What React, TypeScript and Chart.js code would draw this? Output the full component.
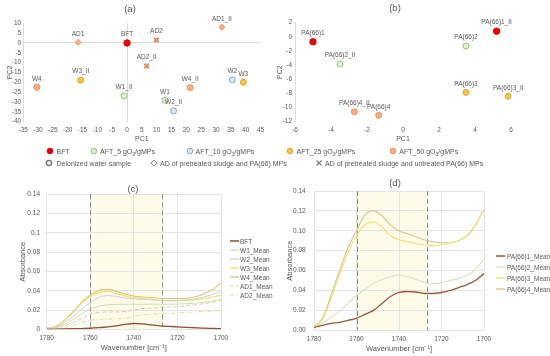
import React, { useEffect, useRef } from 'react';
import { Chart, registerables } from 'chart.js';
Chart.register(...registerables);

const FONT = "'Liberation Sans', Arial, sans-serif";
const TXT = '#595959';
const GRID = '#e4e4e4';
Chart.defaults.font.family = FONT;
Chart.defaults.color = TXT;

// ---------- Panel (a): PCA of sludge samples ----------
const aNames = ['BFT', 'AD1', 'AD2', 'AD1_II', 'AD2_II', 'W4', 'W3_II', 'W1_II', 'W1', 'W2_II', 'W4_II', 'W2', 'W3'];
const aPC1 = [0, -16.5, 9.9, 32, 6.6, -30.4, -15.6, -1, 12.8, 15.7, 21.3, 35.5, 39.2];
const aPC2 = [0, 0.3, 1.5, 8, -11.7, -22.5, -18.9, -26.9, -29.1, -34.5, -22.7, -18.8, -20];
const aGroups = ['BFT', 'AD', 'ADU', 'AD', 'ADU', 'AFT50', 'AFT25', 'AFT5', 'AFT5', 'AFT10', 'AFT50', 'AFT10', 'AFT25'];

// ---------- Panel (b): PCA of PA(66) ----------
const bNames = ['PA(66)1', 'PA(66)1_II', 'PA(66)2', 'PA(66)2_II', 'PA(66)3', 'PA(66)3_II', 'PA(66)4', 'PA(66)4_II'];
const bPC1 = [-5.0, 5.2, 3.5, -3.5, 3.5, 5.85, -1.35, -2.7];
const bPC2 = [-0.7, 0.8, -1.3, -3.85, -7.85, -8.4, -11.1, -10.6];
const bGroups = ['BFT', 'BFT', 'AFT5', 'AFT5', 'AFT25', 'AFT25', 'AFT50', 'AFT50'];

// ---------- Spectra ----------
const wavenumbers = [1780, 1776, 1772, 1768, 1764, 1760, 1756, 1752, 1748, 1744, 1740, 1736, 1732, 1728, 1724, 1720, 1716, 1712, 1708, 1704, 1700];
const bandFrom = 1760;
const bandTo = 1727;

// (c)
const cBFT = [0.0, 0.0002, 0.0004, 0.0006, 0.0008, 0.0011, 0.0017, 0.0025, 0.0036, 0.005, 0.006, 0.0056, 0.0046, 0.0036, 0.003, 0.0025, 0.002, 0.0016, 0.0012, 0.001, 0.0008];
const cW1 = [0.001, 0.002, 0.005, 0.01, 0.016, 0.021, 0.024, 0.0255, 0.0258, 0.026, 0.026, 0.026, 0.026, 0.026, 0.026, 0.0262, 0.0265, 0.027, 0.028, 0.029, 0.031];
const cW2 = [0.001, 0.002, 0.007, 0.013, 0.021, 0.028, 0.033, 0.035, 0.034, 0.0325, 0.0315, 0.031, 0.0305, 0.03, 0.03, 0.03, 0.0305, 0.0315, 0.0335, 0.036, 0.039];
const cW3 = [0.001, 0.003, 0.009, 0.017, 0.027, 0.034, 0.0385, 0.0393, 0.0372, 0.0345, 0.033, 0.032, 0.031, 0.03, 0.0295, 0.0295, 0.0298, 0.0305, 0.0318, 0.0335, 0.0355];
const cW4 = [0.001, 0.003, 0.009, 0.018, 0.028, 0.0355, 0.0405, 0.0415, 0.0395, 0.0365, 0.0345, 0.0335, 0.0328, 0.0322, 0.032, 0.032, 0.0322, 0.0335, 0.0365, 0.041, 0.048];
const cAD1 = [0.001, 0.002, 0.004, 0.007, 0.011, 0.016, 0.0175, 0.018, 0.018, 0.0185, 0.02, 0.0215, 0.022, 0.0225, 0.023, 0.0235, 0.0245, 0.0255, 0.0265, 0.028, 0.03];
const cAD2 = [0.0005, 0.001, 0.002, 0.004, 0.007, 0.0095, 0.0103, 0.0105, 0.0108, 0.0115, 0.0135, 0.015, 0.0155, 0.016, 0.0165, 0.017, 0.0175, 0.018, 0.0185, 0.019, 0.0195];

// (d)
const dPA1 = [0.003, 0.005, 0.007, 0.008, 0.01, 0.012, 0.016, 0.02, 0.027, 0.034, 0.038, 0.039, 0.0385, 0.037, 0.037, 0.038, 0.04, 0.043, 0.046, 0.05, 0.057];
const dPA2 = [0.003, 0.007, 0.013, 0.019, 0.027, 0.035, 0.041, 0.047, 0.051, 0.054, 0.0555, 0.054, 0.051, 0.048, 0.047, 0.048, 0.05, 0.052, 0.055, 0.061, 0.072];
const dPA3 = [0.003, 0.011, 0.032, 0.056, 0.078, 0.095, 0.106, 0.109, 0.104, 0.095, 0.091, 0.089, 0.087, 0.086, 0.085, 0.086, 0.088, 0.09, 0.095, 0.106, 0.122];
const dPA4 = [0.003, 0.012, 0.035, 0.06, 0.083, 0.1, 0.116, 0.12, 0.115, 0.106, 0.1, 0.097, 0.094, 0.091, 0.089, 0.088, 0.088, 0.09, 0.095, 0.106, 0.122];

const cSeries = [
  { name: 'BFT', values: cBFT, color: '#8e4f30', w: 1.3, dash: [] as number[] },
  { name: 'W1_Mean', values: cW1, color: '#c8e0b2', w: 1, dash: [] as number[] },
  { name: 'W2_Mean', values: cW2, color: '#cacfe2', w: 1, dash: [] as number[] },
  { name: 'W3_Mean', values: cW3, color: '#f2df6c', w: 1.1, dash: [] as number[] },
  { name: 'W4_Mean', values: cW4, color: '#d8c584', w: 1.1, dash: [] as number[] },
  { name: 'AD1_Mean', values: cAD1, color: '#e5c9a2', w: 1, dash: [4, 2.5] },
  { name: 'AD2_Mean', values: cAD2, color: '#e6d896', w: 1, dash: [4, 2, 1, 2] },
];
const dSeries = [
  { name: 'PA(66)1_Mean', values: dPA1, color: '#9a583a', w: 1.3, dash: [] as number[] },
  { name: 'PA(66)2_Mean', values: dPA2, color: '#d5e6c6', w: 1.2, dash: [] as number[] },
  { name: 'PA(66)3_Mean', values: dPA3, color: '#f1e27a', w: 1.2, dash: [] as number[] },
  { name: 'PA(66)4_Mean', values: dPA4, color: '#d9c78c', w: 1.2, dash: [] as number[] },
];

const STY: Record<string, { style: string; r: number; fill: string; border: string; bw: number }> = {
  BFT: { style: 'circle', r: 3.2, fill: '#e60000', border: '#e60000', bw: 1 },
  AFT5: { style: 'circle', r: 3, fill: '#e2efd8', border: '#93c47d', bw: 1 },
  AFT10: { style: 'circle', r: 3, fill: '#dce7f4', border: '#85a9d0', bw: 1 },
  AFT25: { style: 'circle', r: 3, fill: '#f6c443', border: '#e2a91e', bw: 1 },
  AFT50: { style: 'circle', r: 3, fill: '#f4b183', border: '#e8915e', bw: 1 },
  AD: { style: 'rectRot', r: 3, fill: '#f4b183', border: '#e8915e', bw: 1 },
  ADU: { style: 'crossRot', r: 3.2, fill: '#ea8a5c', border: '#ea8a5c', bw: 2.2 },
};

const labelPlugin = {
  id: 'ptLabels',
  afterDatasetsDraw(chart: any, _a: any, opts: any) {
    const labels: string[] = opts.labels;
    if (!labels) return;
    const ctx = chart.ctx;
    const meta = chart.getDatasetMeta(0);
    ctx.save();
    ctx.font = `6.5px ${FONT}`;
    ctx.fillStyle = TXT;
    ctx.textAlign = 'center';
    ctx.textBaseline = 'middle';
    meta.data.forEach((pt: any, i: number) => ctx.fillText(labels[i], pt.x, pt.y - 8.5));
    ctx.restore();
  },
};

const bandPlugin = {
  id: 'band',
  beforeDraw(chart: any, _a: any, opts: any) {
    const { ctx, chartArea: ca, scales } = chart;
    const x1 = scales.x.getPixelForValue(opts.from);
    const x2 = scales.x.getPixelForValue(opts.to);
    ctx.save();
    ctx.fillStyle = '#fffbe9';
    ctx.fillRect(Math.min(x1, x2), ca.top, Math.abs(x2 - x1), ca.bottom - ca.top);
    ctx.restore();
  },
  beforeDatasetsDraw(chart: any, _a: any, opts: any) {
    const { ctx, chartArea: ca, scales } = chart;
    ctx.save();
    ctx.strokeStyle = '#8f8f8f';
    ctx.lineWidth = 1;
    ctx.setLineDash([5, 3]);
    [opts.from, opts.to].forEach((v: number) => {
      const x = Math.round(scales.x.getPixelForValue(v)) + 0.5;
      ctx.beginPath();
      ctx.moveTo(x, ca.top);
      ctx.lineTo(x, ca.bottom);
      ctx.stroke();
    });
    ctx.restore();
  },
};

function scatterCfg(p: any) {
  const data = p.xs.map((x: number, i: number) => ({ x, y: p.ys[i] }));
  const g = p.groups as string[];
  const zeroColor = (c: any) => (p.zero && c.tick && c.tick.value === 0 ? '#dadada' : 'rgba(0,0,0,0)');
  return {
    type: 'scatter',
    data: {
      datasets: [
        {
          data,
          pointStyle: g.map((k) => STY[k].style),
          pointRadius: g.map((k) => STY[k].r),
          pointBackgroundColor: g.map((k) => STY[k].fill),
          pointBorderColor: g.map((k) => STY[k].border),
          pointBorderWidth: g.map((k) => STY[k].bw),
        },
      ],
    },
    options: {
      responsive: false,
      animation: false,
      devicePixelRatio: 1,
      layout: { padding: p.pad },
      plugins: { legend: { display: false }, tooltip: { enabled: false }, ptLabels: { labels: p.names } },
      scales: {
        x: {
          type: 'linear',
          min: p.xMin,
          max: p.xMax,
          afterFit: (s: any) => { s.height = p.xH; },
          ticks: { stepSize: p.xStep, autoSkip: false, maxRotation: 0, padding: 5, font: { size: 6.5 }, color: TXT, callback: (v: number) => String(v) },
          grid: { drawTicks: false, color: zeroColor },
          border: { display: false },
          title: { display: true, text: 'PC1', font: { size: 7 }, color: TXT, padding: { top: 0, bottom: 2.5 } },
        },
        y: {
          type: 'linear',
          min: p.yMin,
          max: p.yMax,
          afterFit: (s: any) => { s.width = p.yW; },
          ticks: { stepSize: p.yStep, autoSkip: false, padding: p.yTickPad, font: { size: 6.5 }, color: TXT, callback: (v: number) => String(v) },
          grid: { drawTicks: false, color: zeroColor },
          border: { display: true, color: '#dcdcdc' },
          title: { display: true, text: 'PC2', font: { size: 7 }, color: TXT, padding: { top: p.yTitlePad, bottom: 0 } },
        },
      },
    },
    plugins: [labelPlugin],
  };
}

function lineCfg(p: any) {
  return {
    type: 'line',
    data: {
      datasets: p.series.map((s: any) => ({
        label: s.name,
        data: wavenumbers.map((x, i) => ({ x, y: s.values[i] })),
        borderColor: s.color,
        borderWidth: s.w,
        borderDash: s.dash,
        pointRadius: 0,
        cubicInterpolationMode: 'monotone',
        fill: false,
      })),
    },
    options: {
      responsive: false,
      animation: false,
      devicePixelRatio: 1,
      layout: { padding: p.pad },
      plugins: { legend: { display: false }, tooltip: { enabled: false }, band: { from: bandFrom, to: bandTo } },
      scales: {
        x: {
          type: 'linear',
          reverse: true,
          min: 1700,
          max: 1780,
          afterFit: (s: any) => { s.height = p.xH; },
          ticks: { stepSize: 20, autoSkip: false, maxRotation: 0, padding: p.xTickPad, font: { size: 6.5 }, color: TXT, callback: (v: number) => String(v) },
          grid: { drawTicks: false, color: GRID },
          border: { display: false },
          title: { display: true, text: 'Wavenumber [cm⁻¹]', font: { size: 7.5 }, color: TXT, padding: { top: 0, bottom: p.xTitlePad } },
        },
        y: {
          type: 'linear',
          min: 0,
          max: 0.14,
          afterFit: (s: any) => { s.width = p.yW; },
          ticks: { stepSize: 0.02, autoSkip: false, padding: p.yTickPad, font: { size: 6.5 }, color: TXT, callback: p.fmt },
          grid: { drawTicks: false, color: GRID },
          border: { display: false },
          title: { display: true, text: 'Absorbance', font: { size: 7.5 }, color: TXT, padding: { top: p.yTitlePad, bottom: 0 } },
        },
      },
    },
    plugins: [bandPlugin],
  };
}

function ChartBox({ make, left, top, width, height }: any) {
  const ref = useRef<HTMLCanvasElement>(null);
  useEffect(() => {
    const chart = new Chart(ref.current as HTMLCanvasElement, make());
    return () => chart.destroy();
  }, []);
  return <canvas ref={ref} width={width} height={height} style={{ position: 'absolute', left, top, width, height }} />;
}

const txt: React.CSSProperties = { position: 'absolute', fontFamily: FONT, color: TXT, whiteSpace: 'nowrap', fontSize: 7, lineHeight: '9px' };

function Marker({ kind, x, y }: any) {
  let shape: any;
  if (kind === 'DW') shape = <circle cx={4} cy={4} r={2.6} fill="#fff" stroke="#7f7f7f" strokeWidth={1.5} />;
  else if (kind === 'DIA') shape = <polygon points="4,1 7,4 4,7 1,4" fill="#fff" stroke="#8a8a8a" strokeWidth={1} />;
  else if (kind === 'X') shape = (
    <g stroke="#7f7f7f" strokeWidth={1.3}>
      <line x1={1.5} y1={1.5} x2={6.5} y2={6.5} />
      <line x1={6.5} y1={1.5} x2={1.5} y2={6.5} />
    </g>
  );
  else shape = <circle cx={4} cy={4} r={2.8} fill={STY[kind].fill} stroke={STY[kind].border} strokeWidth={1} />;
  return (
    <svg width={8} height={8} style={{ position: 'absolute', left: x - 4, top: y - 4 }}>
      {shape}
    </svg>
  );
}

function Aft({ n }: { n: string }) {
  return (
    <>
      AFT_{n} gO<sub style={{ fontSize: 5, verticalAlign: 'sub', lineHeight: 0 }}>3</sub>/gMPs
    </>
  );
}

function LineLegend({ items, x, y0, step, tx }: any) {
  return (
    <>
      {items.map((s: any, i: number) => (
        <React.Fragment key={s.name}>
          <svg width={10} height={4} style={{ position: 'absolute', left: x, top: y0 + i * step - 2 }}>
            <line x1={0} y1={2} x2={9} y2={2} stroke={s.color} strokeWidth={s.w + 0.2} strokeDasharray={s.dash.length ? s.dash.join(',') : undefined} />
          </svg>
          <div style={{ ...txt, fontSize: 6.5, left: tx, top: y0 + i * step - 4.5 }}>{s.name}</div>
        </React.Fragment>
      ))}
    </>
  );
}

export default function App() {
  const title: React.CSSProperties = { ...txt, fontSize: 9.5, lineHeight: '11px', transform: 'translate(-50%, -50%)' };
  return (
    <div style={{ position: 'absolute', left: 0, top: 0, width: 550, height: 356, background: '#fff', overflow: 'hidden' }}>
      <ChartBox
        left={0}
        top={0}
        width={275}
        height={148}
        make={() =>
          scatterCfg({
            names: aNames, xs: aPC1, ys: aPC2, groups: aGroups, zero: true,
            xMin: -35, xMax: 45, xStep: 5, yMin: -40, yMax: 10, yStep: 5,
            pad: { top: 23.3, right: 14.5, left: 0, bottom: 2.3 }, xH: 24, yW: 23.2, yTickPad: 2, yTitlePad: 5.8,
          })
        }
      />
      <ChartBox
        left={275}
        top={0}
        width={275}
        height={148}
        make={() =>
          scatterCfg({
            names: bNames, xs: bPC1, ys: bPC2, groups: bGroups, zero: false,
            xMin: -6, xMax: 6, xStep: 2, yMin: -12, yMax: 2, yStep: 2,
            pad: { top: 22.7, right: 39, left: 0, bottom: 2.3 }, xH: 24, yW: 20, yTickPad: 3, yTitlePad: 0.8,
          })
        }
      />
      <div style={{ position: 'absolute', left: 0, top: 175, width: 275, height: 181, overflow: 'hidden' }}>
        <ChartBox
          left={0}
          top={0}
          width={275}
          height={181}
          make={() =>
            lineCfg({
              series: cSeries,
              pad: { top: 19.3, right: 54, left: 0, bottom: 0 }, xH: 26.7, yW: 46.7,
              yTickPad: 6.7, yTitlePad: 18.8, xTickPad: 5.5, xTitlePad: 3.5,
              fmt: (v: number) => String(Math.round(v * 100) / 100),
            })
          }
        />
        <LineLegend items={cSeries} x={230} y0={66} step={9} tx={240} />
      </div>
      <div style={{ position: 'absolute', left: 275, top: 175, width: 275, height: 181, overflow: 'hidden' }}>
        <ChartBox
          left={0}
          top={0}
          width={275}
          height={181}
          make={() =>
            lineCfg({
              series: dSeries,
              pad: { top: 16, right: 66, left: 0, bottom: 0 }, xH: 25.7, yW: 39,
              yTickPad: 8.3, yTitlePad: 10.8, xTickPad: 5.2, xTitlePad: 2.8,
              fmt: (v: number) => v.toFixed(2),
            })
          }
        />
        <LineLegend items={dSeries} x={221} y0={81} step={11} tx={232} />
      </div>

      <div style={{ ...title, left: 130, top: 8 }}>(a)</div>
      <div style={{ ...title, left: 395, top: 7 }}>(b)</div>
      <div style={{ ...title, left: 133, top: 188 }}>(c)</div>
      <div style={{ ...title, left: 395, top: 182 }}>(d)</div>

      {/* shared legend for (a) and (b) */}
      <Marker kind="BFT" x={50} y={151} />
      <div style={{ ...txt, left: 56.5, top: 146.5 }}>BFT</div>
      <Marker kind="AFT5" x={94.3} y={151} />
      <div style={{ ...txt, left: 100, top: 146.5 }}><Aft n="5" /></div>
      <Marker kind="AFT10" x={190} y={151} />
      <div style={{ ...txt, left: 195.5, top: 146.5 }}><Aft n="10" /></div>
      <Marker kind="AFT25" x={290} y={151} />
      <div style={{ ...txt, left: 296.5, top: 146.5 }}><Aft n="25" /></div>
      <Marker kind="AFT50" x={393.3} y={151} />
      <div style={{ ...txt, left: 399.3, top: 146.5 }}><Aft n="50" /></div>

      <Marker kind="DW" x={49.3} y={163.3} />
      <div style={{ ...txt, left: 56.5, top: 158.8 }}>Deionized water sample</div>
      <Marker kind="DIA" x={154} y={163.3} />
      <div style={{ ...txt, left: 160, top: 158.8 }}>AD of pretreated sludge and PA(66) MPs</div>
      <Marker kind="X" x={319.3} y={163.3} />
      <div style={{ ...txt, left: 325, top: 158.8 }}>AD of pretreated sludge and untreated PA(66) MPs</div>
    </div>
  );
}
